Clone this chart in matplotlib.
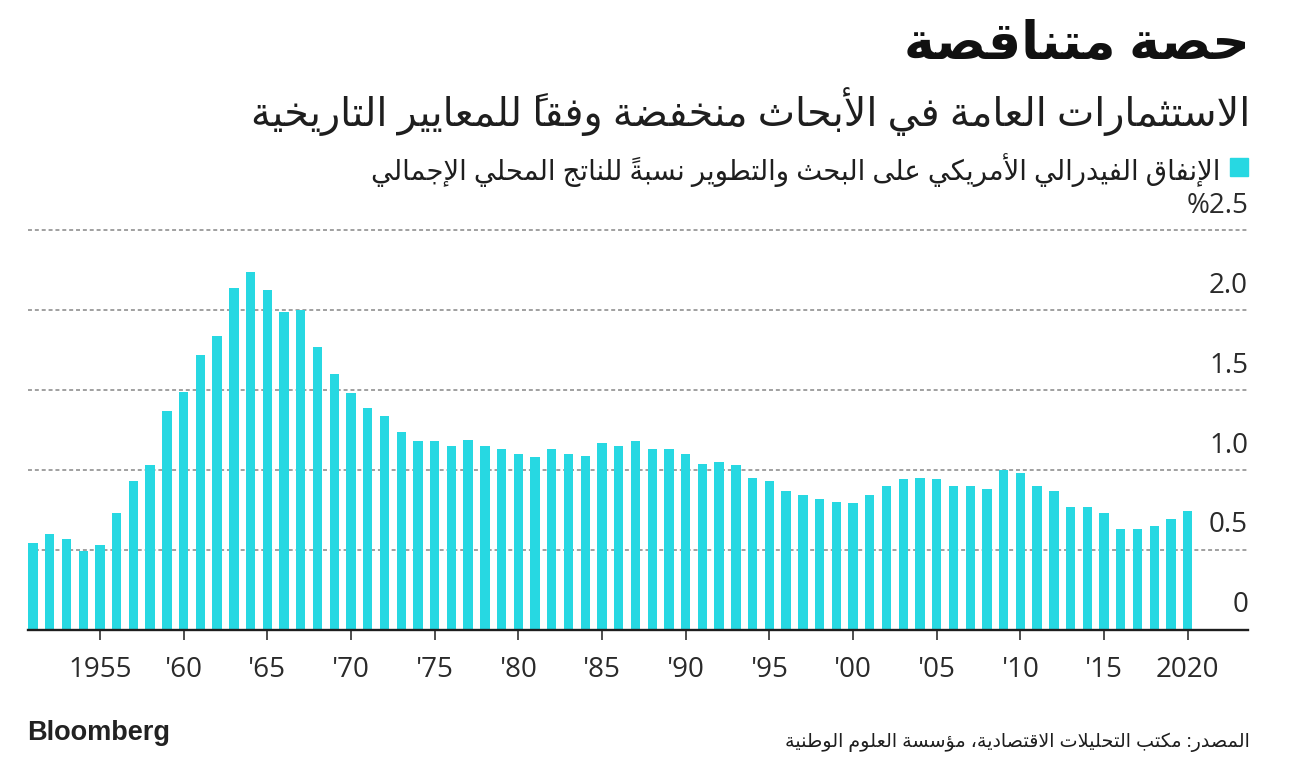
import numpy as np
import matplotlib
matplotlib.use('Agg')
import matplotlib.pyplot as plt
from matplotlib.transforms import offset_copy

plt.rcParams['font.family'] = ['Open Sans', 'DejaVu Sans']

BAR_COLOR = '#27d8e2'
TEXT_COLOR = '#1e1e1e'

# -- data --
years = list(range(1951, 2021))
share = [0.54, 0.60, 0.57, 0.49, 0.53, 0.73, 0.93, 1.03, 1.37, 1.49,
         1.72, 1.84, 2.14, 2.24, 2.13, 1.99, 2.00, 1.77, 1.60, 1.48,
         1.39, 1.34, 1.24, 1.18, 1.18, 1.15, 1.19, 1.15, 1.13, 1.10,
         1.08, 1.13, 1.10, 1.09, 1.17, 1.15, 1.18, 1.13, 1.13, 1.10,
         1.04, 1.05, 1.03, 0.95, 0.93, 0.87, 0.84, 0.82, 0.80, 0.79,
         0.84, 0.90, 0.94, 0.95, 0.94, 0.90, 0.90, 0.88, 1.00, 0.98,
         0.90, 0.87, 0.77, 0.77, 0.73, 0.63, 0.63, 0.65, 0.69, 0.74]
tick_years = list(range(1955, 2021, 5))
tick_labels = ['1955', "'60", "'65", "'70", "'75", "'80", "'85", "'90",
               "'95", "'00", "'05", "'10", "'15", '2020']
y_ticks = [0, 0.5, 1.0, 1.5, 2.0, 2.5]
y_labels = ['0', '0.5', '1.0', '1.5', '2.0', '%2.5']

title = 'حصة متناقصة'
subtitle = 'الاستثمارات العامة في الأبحاث منخفضة وفقاً للمعايير التاريخية'
legend_label = 'الإنفاق الفيدرالي الأمريكي على البحث والتطوير نسبةً للناتج المحلي الإجمالي'
source = 'المصدر: مكتب التحليلات الاقتصادية، مؤسسة العلوم الوطنية'

# matplotlib has no arabic shaping: pick presentation forms by hand and
# reverse into visual order
AR_FORMS = {
    'ء': (0xFE80, 1), 'آ': (0xFE81, 2), 'أ': (0xFE83, 2), 'ؤ': (0xFE85, 2),
    'إ': (0xFE87, 2), 'ئ': (0xFE89, 4), 'ا': (0xFE8D, 2), 'ب': (0xFE8F, 4),
    'ة': (0xFE93, 2), 'ت': (0xFE95, 4), 'ث': (0xFE99, 4), 'ج': (0xFE9D, 4),
    'ح': (0xFEA1, 4), 'خ': (0xFEA5, 4), 'د': (0xFEA9, 2), 'ذ': (0xFEAB, 2),
    'ر': (0xFEAD, 2), 'ز': (0xFEAF, 2), 'س': (0xFEB1, 4), 'ش': (0xFEB5, 4),
    'ص': (0xFEB9, 4), 'ض': (0xFEBD, 4), 'ط': (0xFEC1, 4), 'ظ': (0xFEC5, 4),
    'ع': (0xFEC9, 4), 'غ': (0xFECD, 4), 'ف': (0xFED1, 4), 'ق': (0xFED5, 4),
    'ك': (0xFED9, 4), 'ل': (0xFEDD, 4), 'م': (0xFEE1, 4), 'ن': (0xFEE5, 4),
    'ه': (0xFEE9, 4), 'و': (0xFEED, 2), 'ى': (0xFEEF, 2), 'ي': (0xFEF1, 4),
}
LAM_ALEF = {'آ': 0xFEF5, 'أ': 0xFEF7, 'إ': 0xFEF9, 'ا': 0xFEFB}


def shape_ar(text):
    toks = []
    i = 0
    while i < len(text):
        c = text[i]
        if '\u064B' <= c <= '\u0652' and toks:
            toks[-1][2] += c
        elif c == 'ل' and i + 1 < len(text) and text[i + 1] in LAM_ALEF:
            toks.append(['la', text[i + 1], ''])
            i += 1
        else:
            toks.append(['ch', c, ''])
        i += 1

    def joins_next(t):
        return t[0] == 'ch' and t[1] in AR_FORMS and AR_FORMS[t[1]][1] == 4

    def joins_prev(t):
        return t[0] == 'la' or (t[1] in AR_FORMS and AR_FORMS[t[1]][1] > 1)

    out = []
    for k, t in enumerate(toks):
        prev = k > 0 and joins_next(toks[k - 1]) and joins_prev(t)
        nxt = joins_next(t) and k + 1 < len(toks) and joins_prev(toks[k + 1])
        if t[0] == 'la':
            g = chr(LAM_ALEF[t[1]] + (1 if prev else 0))
        elif t[1] in AR_FORMS:
            base, n = AR_FORMS[t[1]]
            if n == 1:
                g = chr(base)
            elif n == 2:
                g = chr(base + (1 if prev else 0))
            else:
                form = {(False, False): 0, (True, False): 1,
                        (False, True): 2, (True, True): 3}[(prev, nxt)]
                g = chr(base + form)
        else:
            g = t[1]
        # the mark's ink sits right of the pen, so it goes before its letter
        out.append(t[2] + g)
    return ''.join(out[::-1])


W, H = 1296, 760
fig = plt.figure(figsize=(W / 100, H / 100), dpi=100)
ax = fig.add_axes([28 / W, 1 - 629.5 / H, 1220 / W, 399 / H])

ax.bar(years, share, width=0.56, color=BAR_COLOR, zorder=2)
ax.set_xlim(1950.7, 2023.6)
ax.set_ylim(0, 2.5)

for v in y_ticks[1:]:
    ax.axhline(v, color='#999999', lw=1.3, dashes=(2.2, 1.6), zorder=1, clip_on=False)
ax.axhline(0, color=TEXT_COLOR, lw=1.7, zorder=3, clip_on=False)

for s in ax.spines.values():
    s.set_visible(False)
ax.set_yticks([])
ax.set_xticks(tick_years, tick_labels)
ax.tick_params(axis='x', length=7, width=1.1, color=TEXT_COLOR, pad=12,
               labelsize=20, labelcolor='#2a2a2a')

lab_tr = offset_copy(ax.get_yaxis_transform(), fig=fig, y=12.4, units='points')
for v, lab in zip(y_ticks, y_labels):
    ax.text(1.0, v, lab, transform=lab_tr, ha='right', va='baseline',
            fontsize=20, color='#2a2a2a')

# titles
fig.text(1250 / W, 1 - 46 / H, shape_ar(title), ha='right', va='center',
         fontsize=37.5, fontweight='bold', color='#111111')
fig.text(1250 / W, 1 - 112 / H, shape_ar(subtitle), ha='right', va='center',
         fontsize=28.5, color=TEXT_COLOR)

# legend
fig.add_artist(plt.Rectangle((1230 / W, 1 - 176 / H), 18 / W, 18 / H,
                             transform=fig.transFigure, color=BAR_COLOR))
fig.text(1220 / W, 1 - 170 / H, shape_ar(legend_label), ha='right', va='center',
         fontsize=19.8, color=TEXT_COLOR)

# footer
fig.text(27 / W, 1 - 740 / H, 'Bloomberg', ha='left', va='baseline',
         fontsize=19.5, fontweight='bold', family='Liberation Sans', color='#222222')
fig.text(1250 / W, 1 - 742 / H, shape_ar(source), ha='right', va='center',
         fontsize=13.8, color=TEXT_COLOR)

fig.savefig('out.png', dpi=100, facecolor='white')
